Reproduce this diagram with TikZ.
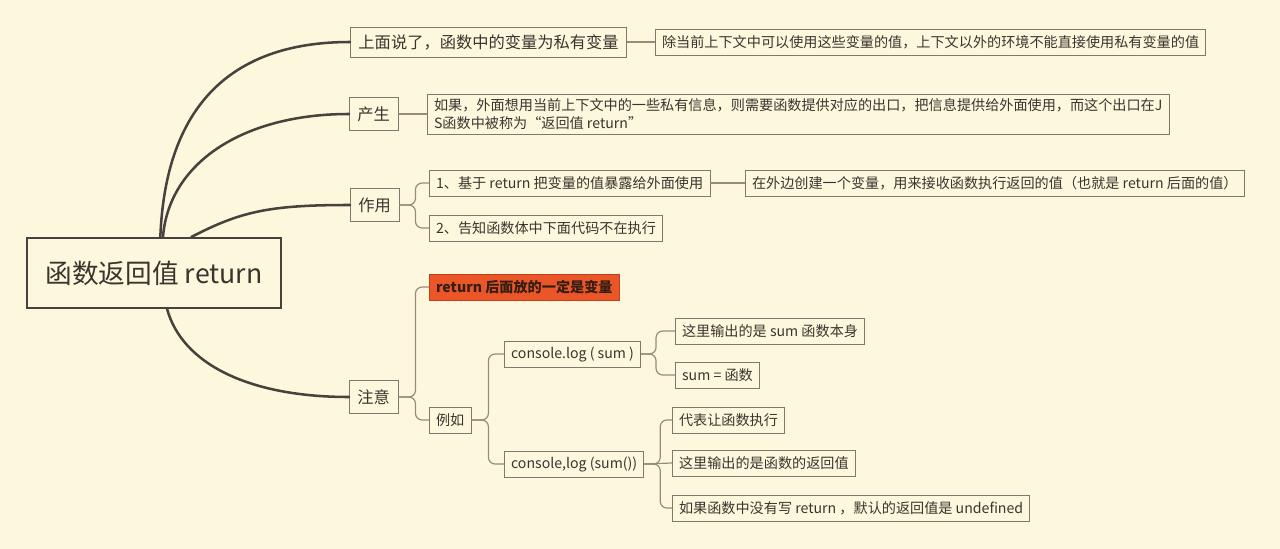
\documentclass[tikz,border=0pt]{standalone}
\usepackage{fontspec}
\setmainfont{Noto Sans CJK SC}

\definecolor{paper}{RGB}{253,248,221}
\definecolor{ink}{RGB}{58,52,46}
\definecolor{boxline}{RGB}{128,120,108}
\definecolor{trunkcol}{RGB}{72,66,62}
\definecolor{twigcol}{RGB}{150,140,122}
\definecolor{hotfill}{RGB}{234,86,40}
\definecolor{hotline}{RGB}{196,62,28}

\tikzset{
  mainline/.style={draw=trunkcol, line width=1.9pt, line cap=round},
  twig/.style={draw=twigcol, line width=0.9pt, rounded corners=5pt},
  topic/.style={draw=boxline, fill=paper, text=ink, line width=0.7pt, font=\fontsize{12.2}{14}\selectfont, inner xsep=6pt, inner ysep=2pt, minimum height=25pt, anchor=west},
  leaf/.style={draw=boxline, fill=paper, text=ink, line width=0.6pt, font=\fontsize{10.6}{14}\selectfont, inner xsep=5pt, inner ysep=2pt, minimum height=19.5pt, anchor=west},
}

\begin{document}
\begin{tikzpicture}[x=0.75pt,y=0.75pt,yscale=-1,xscale=1]

		% Hintergrund
		\fill [paper] (0,0) rectangle (1280,549) ;
		\useasboundingbox (0,0) rectangle (1280,549) ;

		% Zentrales Thema
		\node [draw=trunkcol, line width=1.4pt, fill=paper, text=ink, minimum width=190.5pt, minimum height=52.5pt, font=\fontsize{20}{24}\selectfont] (root) at (154,273) {函数返回值 return};

		% Erste Ebene
		\node [topic, minimum height=22.5pt] (n1) at (350,42) {上面说了，函数中的变量为私有变量};
		\node [topic] (n2) at (349,114) {产生};
		\node [topic] (n3) at (350,205) {作用};
		\node [topic] (n4) at (349,397) {注意};

		% Zweite Ebene
		\node [leaf] (n1a) at (655,42) {除当前上下文中可以使用这些变量的值，上下文以外的环境不能直接使用私有变量的值};
		\node [leaf, align=left, inner ysep=3pt] (n2a) at (427,114) {如果，外面想用当前上下文中的一些私有信息，则需要函数提供对应的出口，把信息提供给外面使用，而这个出口在J\\S函数中被称为“返回值 return”};
		\node [leaf] (n3a) at (429,183) {1、基于 return 把变量的值暴露给外面使用};
		\node [leaf] (n3b) at (429,228) {2、告知函数体中下面代码不在执行};
		\node [leaf, draw=hotline, fill=hotfill, text={rgb,255:red,52;green,30;blue,20}, font=\fontsize{10.6}{14}\selectfont\bfseries] (n4a) at (429,287) {return 后面放的一定是变量};
		\node [leaf] (n4b) at (429,420) {例如};

		% Dritte Ebene
		\node [leaf] (n3a1) at (745,183) {在外边创建一个变量，用来接收函数执行返回的值（也就是 return 后面的值）};
		\node [leaf] (n4b1) at (504,354) {console.log ( sum )};
		\node [leaf] (n4b2) at (504,464) {console,log (sum())};

		% Vierte Ebene
		\node [leaf] (n4b1a) at (675,331) {这里输出的是 sum 函数本身};
		\node [leaf] (n4b1b) at (675,375) {sum = 函数};
		\node [leaf] (n4b2a) at (672,420) {代表让函数执行};
		\node [leaf] (n4b2b) at (672,463) {这里输出的是函数的返回值};
		\node [leaf] (n4b2c) at (672,508) {如果函数中没有写 return ，默认的返回值是 undefined};

		% Hauptäste
		\draw [mainline] (root.80) .. controls +(5,-130) and +(-120,0) .. (n1.west) ;
		\draw [mainline] (root.76) .. controls +(6,-75) and +(-105,0) .. (n2.west) ;
		\draw [mainline] (root.44) .. controls +(50,-26) and +(-80,0) .. (n3.west) ;
		\draw [mainline] (root.-70) .. controls +(15,55) and +(-100,0) .. (n4.west) ;

		% Zweige
		\draw [twig] (n1.east) -- (n1a.west) ;
		\draw [twig] (n2.east) -- (n2a.west) ;
		\draw [twig] (n3.east) -- ++(16,0) |- (n3a.west) ;
		\draw [twig] (n3.east) -- ++(16,0) |- (n3b.west) ;
		\draw [twig] (n3a.east) -- (n3a1.west) ;
		\draw [twig] (n4.east) -- ++(17,0) |- (n4a.west) ;
		\draw [twig] (n4.east) -- ++(17,0) |- (n4b.west) ;
		\draw [twig] (n4b.east) -- ++(17,0) |- (n4b1.west) ;
		\draw [twig] (n4b.east) -- ++(17,0) |- (n4b2.west) ;
		\draw [twig] (n4b1.east) -- ++(15,0) |- (n4b1a.west) ;
		\draw [twig] (n4b1.east) -- ++(15,0) |- (n4b1b.west) ;
		\draw [twig] (n4b2.east) -- ++(16,0) |- (n4b2a.west) ;
		\draw [twig] (n4b2.east) -- (n4b2b.west) ;
		\draw [twig] (n4b2.east) -- ++(16,0) |- (n4b2c.west) ;

\end{tikzpicture}
\end{document}
